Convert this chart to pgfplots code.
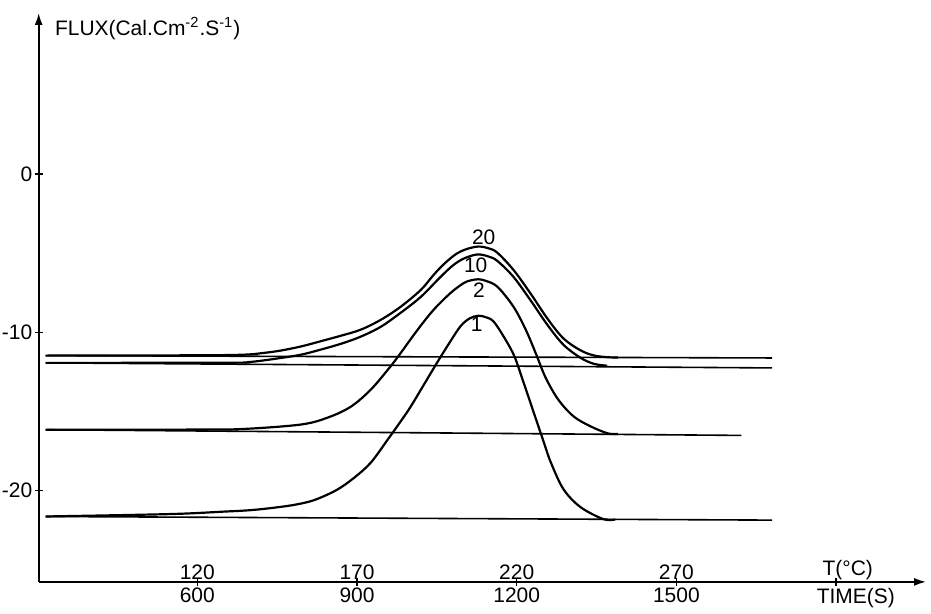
\documentclass[border=0pt]{standalone}
\usepackage{fontspec}
\setmainfont{Liberation Sans}
\usepackage{pgfplots}
\pgfplotsset{compat=1.18}
\usetikzlibrary{arrows.meta}
\newcommand{\degsym}{\char"00B0\relax}
\begin{document}
\begin{tikzpicture}
\begin{axis}[
  scale only axis, width=444.5pt, height=285pt,
  xmin=302, xmax=1969, ymin=-25.8, ymax=10.2,
  axis x line=bottom, axis y line=left,
  axis line style={line width=0.9pt, -{Latex[length=6pt,width=4pt]}},
  xtick={600,900,1200,1500,1800}, xticklabels={},
  ytick={-20,-10,0}, yticklabels={-20,-10,0},
  yticklabel style={font=\fontsize{10.5}{12}\selectfont, inner sep=1pt},
  tick align=center, major tick length=4pt, tick style={line width=0.7pt, black},
  clip=false,
  cycle list={{black,solid,no markers}},
]
% baselines
\addplot[black, no markers, line width=0.8pt] coordinates {(315,-11.48) (1680,-11.63)};
\addplot[black, no markers, line width=0.8pt] coordinates {(315,-11.94) (1680,-12.26)};
\addplot[black, no markers, line width=0.8pt] coordinates {(315,-16.17) (1622,-16.53)};
\addplot[black, no markers, line width=0.8pt] coordinates {(315,-21.66) (1680,-21.89)};
% curve 20
\addplot[black, no markers, line width=1.1pt, smooth, tension=0.55] coordinates {(315,-11.48) (600,-11.46) (688,-11.42) (725,-11.31) (757,-11.16) (795,-10.90) (832,-10.57) (870,-10.22) (907,-9.84) (945,-9.21) (982,-8.39) (1020,-7.32) (1044,-6.37) (1063,-5.70) (1085,-5.08) (1105,-4.75) (1128,-4.58) (1148,-4.70) (1164,-4.98) (1194,-6.06) (1226,-7.55) (1258,-9.15) (1288,-10.40) (1320,-11.15) (1345,-11.47) (1370,-11.58) (1390,-11.60)};
% curve 10
\addplot[black, no markers, line width=1.1pt, smooth, tension=0.55] coordinates {(315,-11.94) (650,-11.93) (700,-11.88) (757,-11.63) (795,-11.42) (832,-11.10) (870,-10.73) (907,-10.28) (945,-9.65) (982,-8.77) (1020,-7.76) (1057,-6.50) (1080,-5.78) (1100,-5.35) (1126,-5.08) (1148,-5.22) (1164,-5.50) (1194,-6.50) (1226,-7.98) (1258,-9.55) (1288,-10.80) (1320,-11.62) (1345,-12.00) (1370,-12.12)};
% curve 2
\addplot[black, no markers, line width=1.1pt, smooth, tension=0.55] coordinates {(315,-16.17) (600,-16.16) (688,-16.12) (795,-15.84) (846,-15.39) (889,-14.70) (926,-13.63) (958,-12.37) (977,-11.55) (1014,-9.84) (1044,-8.58) (1076,-7.51) (1101,-6.88) (1114,-6.72) (1128,-6.65) (1142,-6.75) (1164,-7.13) (1194,-8.39) (1217,-9.84) (1236,-11.35) (1254,-12.85) (1278,-14.26) (1307,-15.33) (1339,-15.96) (1371,-16.40) (1390,-16.44)};
% curve 1
\addplot[black, no markers, line width=1.1pt, smooth, tension=0.55] coordinates {(315,-21.66) (546,-21.51) (645,-21.36) (707,-21.24) (770,-20.99) (808,-20.74) (832,-20.46) (864,-19.94) (895,-19.20) (926,-18.25) (958,-16.78) (985,-15.5) (1001,-14.70) (1026,-13.3) (1050,-11.95) (1075,-10.6) (1095,-9.6) (1112,-9.12) (1128,-8.96) (1142,-9.05) (1157,-9.34) (1179,-10.47) (1196,-11.55) (1213,-13.19) (1232,-15.08) (1251,-16.97) (1264,-18.23) (1288,-19.94) (1320,-21.07) (1363,-21.83) (1385,-21.85)};
% curve labels
\begin{scope}[every node/.style={font=\fontsize{10.5}{12}\selectfont, inner sep=0pt}]
\node at (axis cs:1138,-3.97) {20};
\node at (axis cs:1123,-5.74) {10};
\node at (axis cs:1129,-7.32) {2};
\node at (axis cs:1125,-9.53) {1};
% x labels
\node[anchor=south, inner sep=1pt] at (axis cs:600,-25.8) {120};
\node[anchor=south, inner sep=1pt] at (axis cs:900,-25.8) {170};
\node[anchor=south, inner sep=1pt] at (axis cs:1200,-25.8) {220};
\node[anchor=south, inner sep=1pt] at (axis cs:1500,-25.8) {270};
\node[anchor=north, inner sep=3pt] at (axis cs:600,-25.8) {600};
\node[anchor=north, inner sep=3pt] at (axis cs:900,-25.8) {900};
\node[anchor=north, inner sep=3pt] at (axis cs:1200,-25.8) {1200};
\node[anchor=north, inner sep=3pt] at (axis cs:1500,-25.8) {1500};
\node[anchor=south, inner sep=1pt] at (axis cs:1822,-25.8) {T(\degsym C)};
\node[anchor=north, inner sep=3pt] at (axis cs:1837,-25.8) {TIME(S)};
\node[anchor=base west] at (axis cs:332,8.77) {FLUX(Cal.Cm\textsuperscript{-2}.S\textsuperscript{-1})};
\end{scope}
\path (rel axis cs:-0.0416,-0.0526) rectangle (rel axis cs:1.0056,1.0228);
\end{axis}
\end{tikzpicture}
\end{document}
